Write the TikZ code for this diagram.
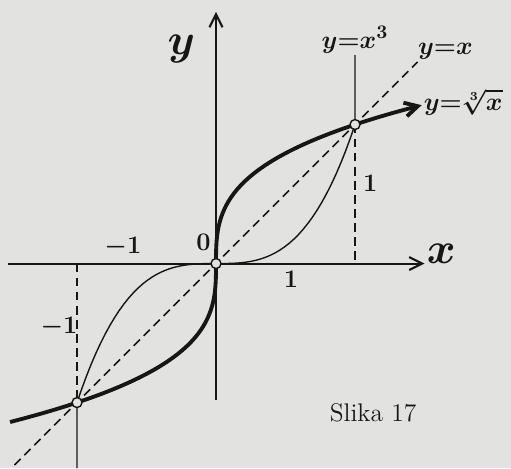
\documentclass[tikz,border=0pt]{standalone}
\usepackage{amsmath,amssymb}
\usepackage{tikz}
\usepackage{xcolor}
\usetikzlibrary{arrows.meta}
\definecolor{paper}{RGB}{226,226,224}
\definecolor{ink}{RGB}{22,22,22}
\tikzset{
  axis/.style={ink,line width=1.2pt},
  thickcurve/.style={ink,line width=2.2pt},
  thincurve/.style={ink,line width=0.8pt},
  guide/.style={ink,line width=0.9pt,dash pattern=on 5pt off 3pt},
  dot/.style={circle,draw=ink,line width=0.8pt,fill=paper,inner sep=0pt,minimum size=0.2cm},
  hand/.style={ink,font=\fontsize{15}{15}\selectfont\boldmath}
}

\begin{document}
\begin{tikzpicture}[x=2.78cm,y=2.78cm]
\fill[paper] (-1.554,-1.471) rectangle (2.122,1.896);
\useasboundingbox (-1.554,-1.471) rectangle (2.122,1.896);
% axes
\draw[axis,-{Straight Barb[length=2.6mm,width=2.6mm]}] (-1.5,0) -- (1.5,0);
\draw[axis,-{Straight Barb[length=2.6mm,width=2.6mm]}] (0,-0.98) -- (0,1.81);
\node[hand,font=\fontsize{26}{26}\selectfont\boldmath] (xlab) at (1.62,0.07) {$x$};
\node[hand,font=\fontsize{24}{24}\selectfont\boldmath] (ylab) at (-0.25,1.54) {$y$};
% y = x
\draw[guide] (-1.45,-1.45) -- (1.45,1.45);
\draw[guide] (1,1) -- (1,0);
\draw[guide] (-1,0) -- (-1,-1);
% y = x^3
\draw[thincurve] (-1,-1.471) -- plot[domain=-1:1,samples=60] (\x,{\x*\x*\x}) -- (1,1.5);
% y = cube root of x
\draw[thickcurve,-{Straight Barb[length=2.6mm,width=2.8mm]}]
  plot[domain=-1.14:1.14,samples=80] ({\x*\x*\x},\x);
\node[dot] (o) at (0,0) {};
\node[dot] (p1) at (1,1) {};
\node[dot] (pm) at (-1,-1) {};
% labels
\node[hand] (lcube) at (1.0,1.61) {$y{=}x^3$};
\node[hand] (lid) at (1.65,1.53) {$y{=}x$};
\node[hand,anchor=west] (lroot) at (1.45,1.16) {$y{=}\sqrt[3]{x}$};
\node[hand] (lo) at (-0.09,0.15) {$0$};
\node[hand] (l1x) at (0.54,-0.11) {$1$};
\node[hand] (l1y) at (1.11,0.58) {$1$};
\node[hand] (lmx) at (-0.67,0.12) {$-1$};
\node[hand] (lmy) at (-1.13,-0.46) {$-1$};
\node[ink,font=\fontsize{14.5}{15}\selectfont] (cap) at (1.13,-1.07) {Slika 17};
\end{tikzpicture}
\end{document}
